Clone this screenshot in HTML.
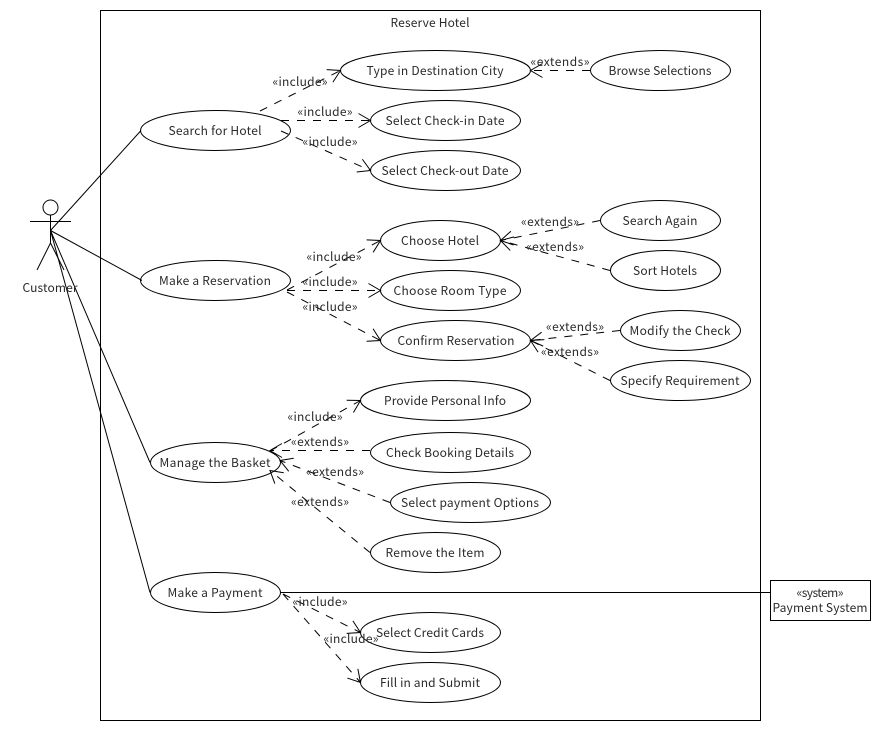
<!DOCTYPE html>
<html><head><meta charset="utf-8">
<style>
html,body{margin:0;padding:0;background:#fff;width:880px;height:730px;overflow:hidden}
svg{display:block}
text{font-family:"Noto Sans CJK SC","Liberation Sans",sans-serif;font-size:12px;fill:#2a2a2a;text-anchor:middle}
ellipse,rect.b{fill:#fff;stroke:#000;stroke-width:1}
.s{stroke:#000;stroke-width:1;fill:none}
.d{stroke:#000;stroke-width:1;fill:none;stroke-dasharray:8 8;marker-end:url(#a)}
.e{stroke:#000;stroke-width:1;fill:none;stroke-dasharray:8 8;marker-end:url(#a)}
</style></head><body>
<svg width="880" height="730" viewBox="0 0 880 730" xmlns="http://www.w3.org/2000/svg">
<defs><marker id="a" markerUnits="userSpaceOnUse" markerWidth="30" markerHeight="30" refX="15" refY="15" orient="auto" overflow="visible"><path d="M3,8 L15,15 L3,22" fill="none" stroke="#000" stroke-width="1"/></marker></defs>
<rect class="b" x="100.5" y="10.5" width="660" height="710"/>
<text x="430" y="27" textLength="79">Reserve Hotel</text>

<g transform="translate(0.5,0)">
<ellipse cx="435" cy="70.5" rx="95" ry="20"/>
<ellipse cx="660" cy="70.5" rx="70" ry="20"/>
<ellipse cx="215" cy="130.5" rx="75" ry="20"/>
<ellipse cx="445" cy="120.5" rx="75" ry="20"/>
<ellipse cx="445" cy="170.5" rx="75" ry="20"/>
<ellipse cx="440" cy="240.5" rx="60" ry="20"/>
<ellipse cx="660" cy="220.5" rx="60" ry="20"/>
<ellipse cx="665" cy="270.5" rx="55" ry="20"/>
<ellipse cx="215" cy="280.5" rx="75" ry="20"/>
<ellipse cx="450" cy="290.5" rx="70" ry="20"/>
<ellipse cx="455" cy="340.5" rx="75" ry="20"/>
<ellipse cx="680" cy="330.5" rx="60" ry="20"/>
<ellipse cx="680" cy="380.5" rx="70" ry="20"/>
<ellipse cx="445" cy="400.5" rx="85" ry="20"/>
<ellipse cx="215" cy="462.5" rx="65" ry="20"/>
<ellipse cx="450" cy="452.5" rx="80" ry="20"/>
<ellipse cx="470" cy="502.5" rx="80" ry="20"/>
<ellipse cx="435" cy="552.5" rx="65" ry="20"/>
<ellipse cx="215" cy="592.5" rx="65" ry="20"/>
<ellipse cx="430" cy="632.5" rx="70" ry="20"/>
<ellipse cx="430" cy="682.5" rx="70" ry="20"/>
</g>

<!-- actor -->
<circle cx="50.5" cy="207.5" r="7.5" fill="#fff" stroke="#000"/>
<path class="s" d="M50.5,215 V243 M30,221.5 H71 M50.5,243 L37,270 M50.5,243 L64,270"/>

<!-- associations -->
<path class="s" d="M50.5,230.5 L141,130.5 M50.5,230.5 L142,280.5 M50.5,230.5 L150,462.5 M50.5,230.5 L150,592.5"/>
<path class="s" d="M280,592.5 H770.5"/>
<rect class="b" x="770.5" y="580.5" width="100" height="40"/>

<!-- include -->
<path class="d" d="M260,111 L340.5,70.5"/>
<path class="d" d="M281,120.5 L370.5,120.5"/>
<path class="d" d="M281,131 L370.5,170.5"/>
<path class="d" d="M287,290 L380.5,240.5"/>
<path class="d" d="M287,290.5 L380.5,290.5"/>
<path class="d" d="M287,292 L380.5,340.5"/>
<path class="d" d="M270,451 L360.5,400.5"/>
<path class="d" d="M283,594 L360.5,632.5"/>
<path class="d" d="M283,594 L360.5,682.5"/>
<!-- extends -->
<path class="e" d="M590,70.5 L530.5,70.5"/>
<path class="e" d="M600,220.5 L500.5,240.5"/>
<path class="e" d="M610,270.5 L500.5,240.5"/>
<path class="e" d="M620,330.5 L530.5,340.5"/>
<path class="e" d="M610,380.5 L530.5,340.5"/>
<path class="e" d="M370,450.5 L270,450.5"/>
<path class="e" d="M390,502.5 L280,460.5"/>
<path class="e" d="M370,552.5 L270,470.5"/>

<!-- node labels -->
<text x="435" y="75" textLength="137">Type in Destination City</text>
<text x="660" y="75" textLength="103">Browse Selections</text>
<text x="215" y="135" textLength="93">Search for Hotel</text>
<text x="445" y="125" textLength="119">Select Check-in Date</text>
<text x="445" y="175" textLength="127">Select Check-out Date</text>
<text x="440" y="245" textLength="78">Choose Hotel</text>
<text x="660" y="225" textLength="75">Search Again</text>
<text x="665" y="275" textLength="64">Sort Hotels</text>
<text x="215" y="285" textLength="112">Make a Reservation</text>
<text x="450" y="295" textLength="113">Choose Room Type</text>
<text x="456" y="345" textLength="117">Confirm Reservation</text>
<text x="680" y="335" textLength="101">Modify the Check</text>
<text x="680" y="385" textLength="119">Specify Requirement</text>
<text x="445" y="405" textLength="122">Provide Personal Info</text>
<text x="215" y="467" textLength="111">Manage the Basket</text>
<text x="450" y="457" textLength="128">Check Booking Details</text>
<text x="470" y="507" textLength="138">Select payment Options</text>
<text x="435" y="557" textLength="99">Remove the Item</text>
<text x="215" y="597" textLength="95">Make a Payment</text>
<text x="430" y="637" textLength="108">Select Credit Cards</text>
<text x="430" y="687" textLength="100">Fill in and Submit</text>
<text x="50" y="292" textLength="55">Customer</text>
<text x="820" y="597" textLength="47">«system»</text>
<text x="820" y="612" textLength="95">Payment System</text>

<!-- connector labels -->
<text x="300" y="86" textLength="55">«include»</text>
<text x="325" y="116" textLength="55">«include»</text>
<text x="330" y="146" textLength="55">«include»</text>
<text x="560" y="66" textLength="59">«extends»</text>
<text x="334" y="261" textLength="55">«include»</text>
<text x="330" y="286" textLength="55">«include»</text>
<text x="330" y="311" textLength="55">«include»</text>
<text x="550" y="226" textLength="58">«extends»</text>
<text x="555" y="251" textLength="58">«extends»</text>
<text x="575" y="331" textLength="58">«extends»</text>
<text x="570" y="356" textLength="58">«extends»</text>
<text x="315" y="421" textLength="55">«include»</text>
<text x="320" y="446" textLength="58">«extends»</text>
<text x="335" y="476" textLength="58">«extends»</text>
<text x="320" y="506" textLength="58">«extends»</text>
<text x="320" y="606" textLength="55">«include»</text>
<text x="351" y="643" textLength="55">«include»</text>
</svg>
</body></html>
